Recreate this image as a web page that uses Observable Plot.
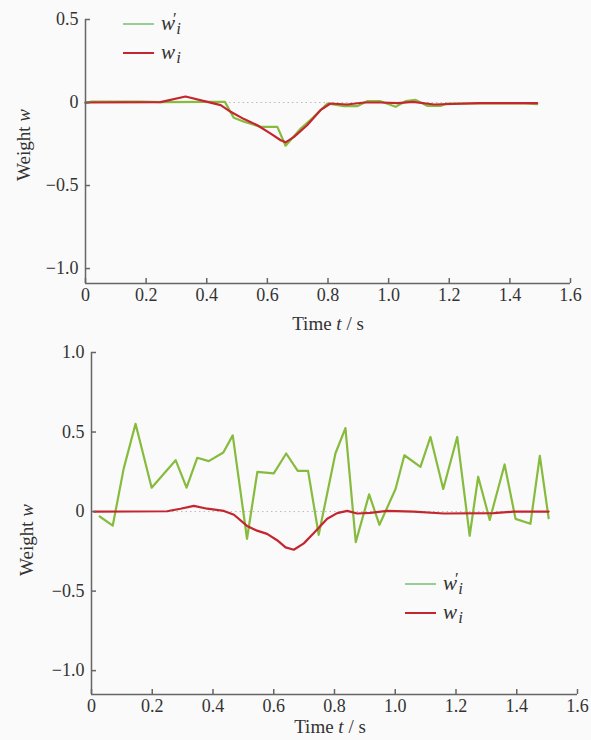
<!DOCTYPE html>
<html>
<head>
<meta charset="utf-8">
<script src="https://cdn.jsdelivr.net/npm/d3@7"></script>
<script src="https://cdn.jsdelivr.net/npm/@observablehq/plot@0.6"></script>
<style>
  body { margin: 0; background: #fafafa; }
  #wrap { position: relative; width: 591px; height: 740px; font-family: "Liberation Serif", "DejaVu Serif", serif; }
  #wrap svg { display: block; background: transparent; }
  #wrap svg text { font-family: "Liberation Serif", serif !important; }
  .legend { position: absolute; font-family: "Liberation Serif", serif; font-size: 21px; color: #333; }
  .legend .row { display: flex; align-items: center; height: 29px; }
  .legend .sw { width: 31px; height: 2px; margin-right: 7px; }
  .lab { position: relative; display: inline-block; line-height: 1; }
  .lab .w { font-style: italic; }
  .lab .pr { position: absolute; left: 0.72em; top: -0.12em; font-size: 0.8em; }
  .lab .sub { position: relative; top: 0.22em; font-style: italic; font-size: 0.8em; margin-left: 0.08em; }
</style>
</head>
<body>
<div id="wrap"></div>
<script>
// ---------- data ----------
const xTicks = [0, 0.2, 0.4, 0.6, 0.8, 1.0, 1.2, 1.4, 1.6];
const yTicksTop = [0.5, 0, -0.5, -1.0];
const yTicksBottom = [1.0, 0.5, 0, -0.5, -1.0];

// top panel: w'_i (green) and w_i (red)
const topGreenT = [0.0, 0.02, 0.18, 0.25, 0.40, 0.46, 0.489, 0.523, 0.578, 0.633, 0.66, 0.71, 0.75, 0.798, 0.852, 0.896, 0.929, 0.973, 1.023, 1.056, 1.089, 1.127, 1.171, 1.193, 1.45, 1.49];
const topGreenW = [-0.004, 0.006, 0.006, 0.002, 0.004, 0.004, -0.092, -0.116, -0.147, -0.147, -0.26, -0.157, -0.092, -0.006, -0.022, -0.022, 0.008, 0.008, -0.026, 0.008, 0.016, -0.02, -0.02, -0.006, -0.006, -0.01];
const topRedT = [0.0, 0.247, 0.33, 0.402, 0.446, 0.479, 0.523, 0.567, 0.611, 0.644, 0.66, 0.688, 0.731, 0.775, 0.808, 0.863, 0.92, 0.975, 1.03, 1.08, 1.15, 1.3, 1.49];
const topRedW = [0.0, 0.002, 0.036, 0.004, -0.016, -0.056, -0.1, -0.137, -0.187, -0.227, -0.24, -0.207, -0.137, -0.046, -0.006, -0.012, 0.0, 0.0, -0.004, 0.004, -0.012, -0.004, -0.004];

// bottom panel
const botGreenT = [0.027, 0.070, 0.106, 0.145, 0.198, 0.277, 0.313, 0.348, 0.386, 0.434, 0.465, 0.512, 0.546, 0.600, 0.641, 0.679, 0.713, 0.748, 0.803, 0.836, 0.870, 0.914, 0.948, 1.001, 1.030, 1.083, 1.116, 1.158, 1.204, 1.245, 1.273, 1.311, 1.360, 1.396, 1.445, 1.476, 1.505];
const botGreenW = [-0.031, -0.088, 0.27, 0.552, 0.15, 0.323, 0.15, 0.338, 0.317, 0.371, 0.479, -0.171, 0.25, 0.24, 0.365, 0.256, 0.256, -0.146, 0.365, 0.525, -0.192, 0.108, -0.083, 0.142, 0.354, 0.281, 0.469, 0.142, 0.469, -0.152, 0.219, -0.052, 0.296, -0.046, -0.077, 0.35, -0.042];
const botRedT = [0.008, 0.249, 0.293, 0.337, 0.381, 0.436, 0.469, 0.512, 0.545, 0.578, 0.611, 0.639, 0.666, 0.699, 0.732, 0.776, 0.809, 0.842, 0.875, 0.918, 0.973, 1.061, 1.160, 1.324, 1.39, 1.505];
const botRedW = [0.0, 0.002, 0.018, 0.036, 0.018, 0.004, -0.02, -0.09, -0.12, -0.14, -0.18, -0.225, -0.24, -0.2, -0.135, -0.045, -0.01, 0.004, -0.012, -0.008, 0.004, 0.0, -0.012, -0.01, 0.0, 0.0];

const GREEN = "#86bb3d";
const RED = "#c3262e";
const LEGEND_GREEN = "#96cf96";
const AXIS = "#666";

const toRows = (ts, ws) => ts.map((t, i) => ({t, w: ws[i]}));
const fmtY = d => d === 0 ? "0" : d3.format(".1f")(d).replace("-", "\u2212");
const fmtX = d => d === 0 ? "0" : d3.format(".1f")(d);

function panel({green, red, yDomain, yTicks, marginLeft, marginRight, marginTop, marginBottom, height}) {
  return Plot.plot({
    width: 591,
    height,
    marginLeft, marginRight, marginTop, marginBottom,
    style: {background: "transparent", fontFamily: "Liberation Serif, serif", fontSize: "18px", color: "#333"},
    x: {domain: [0, 1.6]},
    y: {domain: yDomain},
    marks: [
      Plot.ruleY([0], {x1: 0, x2: 1.5, stroke: "#bbb", strokeDasharray: "1.5,3", strokeWidth: 1}),
      Plot.line(green, {x: "t", y: "w", stroke: GREEN, strokeWidth: 2.2}),
      Plot.line(red, {x: "t", y: "w", stroke: RED, strokeWidth: 2.2}),
      Plot.ruleX([0], {stroke: AXIS, strokeWidth: 1.5}),
      Plot.ruleY([yDomain[0]], {stroke: AXIS, strokeWidth: 1.5}),
      Plot.axisY(yTicks, {tickSize: -5, tickPadding: 12, tickFormat: fmtY, label: null, stroke: AXIS, strokeWidth: 1.5, fill: "#333", fontSize: 18}),
      Plot.axisX(xTicks, {tickSize: -5, tickPadding: 10, tickFormat: fmtX, label: null, stroke: AXIS, strokeWidth: 1.5, fill: "#333", fontSize: 18})
    ]
  });
}

function addLabels(svg, {yx, yy, xx, xy}) {
  const s = d3.select(svg);
  const yl = s.append("text")
    .attr("transform", `translate(${yx},${yy}) rotate(-90)`)
    .attr("text-anchor", "middle")
    .attr("font-size", 19).attr("fill", "#333");
  yl.append("tspan").text("Weight ");
  yl.append("tspan").attr("font-style", "italic").text("w");
  const xl = s.append("text")
    .attr("x", xx).attr("y", xy)
    .attr("text-anchor", "middle")
    .attr("font-size", 19).attr("fill", "#333");
  xl.append("tspan").text("Time ");
  xl.append("tspan").attr("font-style", "italic").text("t");
  xl.append("tspan").text(" / s");
}

const wrap = document.getElementById("wrap");

const topSvg = panel({
  green: toRows(topGreenT, topGreenW), red: toRows(topRedT, topRedW),
  yDomain: [-1.09, 0.5], yTicks: yTicksTop,
  marginLeft: 85, marginRight: 21, marginTop: 19, marginBottom: 57, height: 340
});
addLabels(topSvg, {yx: 30, yy: 145, xx: 328, xy: 330});
wrap.appendChild(topSvg);

const botSvg = panel({
  green: toRows(botGreenT, botGreenW), red: toRows(botRedT, botRedW),
  yDomain: [-1.15, 1.0], yTicks: yTicksBottom,
  marginLeft: 91, marginRight: 14, marginTop: 12, marginBottom: 46, height: 400
});
addLabels(botSvg, {yx: 33, yy: 200, xx: 330, xy: 393});
wrap.appendChild(botSvg);

function legend(left, top) {
  const div = document.createElement("div");
  div.className = "legend";
  div.style.left = left + "px";
  div.style.top = top + "px";
  div.innerHTML = `
    <div class="row"><div class="sw" style="background:${LEGEND_GREEN}"></div>
      <span class="lab"><span class="w">w</span><span class="pr">\u2032</span><span class="sub">i</span></span></div>
    <div class="row"><div class="sw" style="background:${RED}"></div>
      <span class="lab"><span class="w">w</span><span class="sub">i</span></span></div>`;
  wrap.appendChild(div);
}
legend(123, 9);
legend(405, 569);
</script>
</body>
</html>
